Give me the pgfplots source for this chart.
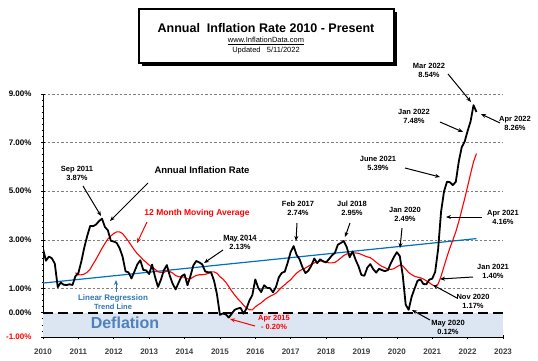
\documentclass[border=0pt]{standalone}
\usepackage{fontspec}
\setmainfont{Liberation Sans}
\usepackage{pgfplots}
\usepackage{pgfplotstable}
\pgfplotsset{compat=1.18}
\usetikzlibrary{arrows.meta}
\definecolor{defl}{RGB}{220,230,242}
\definecolor{trend}{RGB}{0,112,192}
\definecolor{deftext}{RGB}{79,129,189}
\definecolor{tblue}{RGB}{46,117,182}
\definecolor{xlab}{RGB}{64,64,64}

% Annual inflation rate, Jan 2010 - Apr 2022 (monthly)
\pgfplotstableread{
v
2.63
2.14
2.31
2.24
2.02
1.05
1.24
1.15
1.14
1.17
1.14
1.50
1.63
2.11
2.68
3.16
3.57
3.56
3.63
3.77
3.87
3.53
3.39
2.96
2.93
2.87
2.65
2.30
1.70
1.66
1.41
1.69
1.99
2.16
1.76
1.74
1.59
1.98
1.47
1.06
1.36
1.75
1.96
1.52
1.18
0.96
1.24
1.50
1.58
1.13
1.51
1.95
2.13
2.07
1.99
1.70
1.66
1.66
1.32
0.76
-0.09
-0.03
-0.07
-0.20
-0.04
0.12
0.17
0.20
-0.04
0.17
0.50
0.73
1.37
1.02
0.85
1.13
1.02
1.01
0.84
1.06
1.46
1.64
1.69
2.07
2.50
2.74
2.38
2.20
1.87
1.63
1.73
1.94
2.23
2.04
2.20
2.11
2.07
2.21
2.36
2.46
2.80
2.87
2.95
2.70
2.28
2.52
2.18
1.91
1.55
1.52
1.86
2.00
1.79
1.65
1.81
1.75
1.71
1.76
2.05
2.29
2.49
2.33
1.54
0.33
0.12
0.65
0.99
1.31
1.37
1.18
1.17
1.36
1.40
1.68
2.62
4.16
4.99
5.39
5.37
5.25
5.39
6.22
6.81
7.04
7.48
7.87
8.54
8.26
}\infl

% 12 month moving average, Dec 2010 - Apr 2022
\pgfplotstableread{
v
1.644
1.561
1.558
1.589
1.666
1.795
2.004
2.203
2.422
2.649
2.846
3.033
3.155
3.263
3.327
3.324
3.253
3.097
2.938
2.753
2.580
2.423
2.309
2.173
2.072
1.960
1.886
1.788
1.684
1.656
1.663
1.709
1.695
1.628
1.528
1.484
1.464
1.463
1.393
1.396
1.470
1.534
1.561
1.563
1.578
1.618
1.677
1.683
1.622
1.483
1.386
1.254
1.075
0.894
0.732
0.580
0.455
0.313
0.189
0.121
0.118
0.240
0.328
0.404
0.515
0.603
0.678
0.733
0.805
0.930
1.053
1.152
1.263
1.358
1.501
1.628
1.718
1.788
1.840
1.914
1.988
2.052
2.085
2.128
2.131
2.095
2.051
2.049
2.071
2.148
2.252
2.353
2.417
2.421
2.461
2.459
2.443
2.399
2.342
2.300
2.262
2.178
2.076
1.981
1.902
1.854
1.791
1.780
1.812
1.890
1.958
1.931
1.792
1.653
1.569
1.501
1.464
1.436
1.388
1.314
1.237
1.146
1.092
1.182
1.501
1.907
2.302
2.667
2.995
3.330
3.750
4.220
4.693
5.200
5.716
6.209
6.551
}\ma

\begin{document}
\begin{tikzpicture}
\useasboundingbox (0,0) rectangle (538pt,360pt);
\begin{axis}[
  at={(43pt,23pt)}, anchor=south west,
  scale only axis, width=460pt, height=243pt,
  xmin=0, xmax=156, ymin=-1, ymax=9,
  axis x line*=bottom, axis y line*=left,
  axis line style={black, line width=0.8pt, -},
  xtick={0,12,...,156},
  xticklabels={2010,2011,2012,2013,2014,2015,2016,2017,2018,2019,2020,2021,2022,2023},
  minor x tick num=11,
  ytick={1,3,5,7,9},
  yticklabels={1.00\%,3.00\%,5.00\%,7.00\%,9.00\%},
  extra y ticks={-1,0},
  extra y tick labels={\textcolor{red}{-1.00\%},0.00\%},
  extra tick style={grid=none},
  minor ytick={-0.75,-0.5,...,8.75},
  ymajorgrids,
  grid style={gray, dash pattern=on 2.5pt off 2pt, line width=0.5pt},
  tick label style={font=\fontsize{8}{9}\selectfont\bfseries},
  xticklabel style={text=xlab, yshift=-6pt},
  yticklabel style={xshift=-6pt},
  tick style={black, line width=0.6pt},
  major tick length=4pt, minor tick length=2.5pt,
  tick align=center,
]
\fill[defl] (axis cs:0,-1) rectangle (axis cs:156,0);
\draw[black, line width=2.2pt, dash pattern=on 10pt off 5pt] (axis cs:0,0) -- (axis cs:156,0);
\addplot[trend, line width=1.2pt] coordinates {(0,1.22) (147,3.05)};
\addplot[red, line width=1.1pt] table[x expr=\coordindex+11, y=v] {\ma};
\addplot[black, line width=1.8pt, line join=round] table[x expr=\coordindex, y=v] {\infl};
\end{axis}

\begin{scope}[x=1pt, y=-1pt, yshift=360pt,
  font=\fontsize{7.5}{9}\selectfont\bfseries,
  >={Stealth[length=5pt,width=4pt]}, every node/.style={align=center, inner sep=0pt}]
% title box
\fill[black] (142,12) rectangle (397,66);
\draw[fill=white, line width=1.2pt] (139,9) rectangle (394,63);
\node at (266,28) {\fontsize{12.5}{14}\selectfont\bfseries Annual\ \ Inflation Rate 2010 - Present};
\node at (266,41) {\fontsize{7.5}{9}\selectfont\mdseries \underline{www.InflationData.com}};
\node at (266,51) {\fontsize{7.5}{9}\selectfont\mdseries Updated\ \ \ 5/11/2022};
% deflation
\node[text=deftext] at (125,323) {\fontsize{16}{18}\selectfont\bfseries Deflation};
% annotations
\node at (77,173.5) {Sep 2011\\3.87\%};
\draw[->, line width=1pt] (83,186) -- (101,216);
\node at (202,170) {\fontsize{9.5}{11}\selectfont\bfseries Annual Inflation Rate};
\draw[->, line width=1pt] (148,183) -- (110,221);
\node[text=red] at (197,213) {\fontsize{8.5}{10}\selectfont\bfseries 12 Month Moving Average};
\draw[->, red, line width=1pt] (147,222) -- (137,243);
\node at (240,242) {May 2014\\2.13\%};
\draw[->, line width=1pt] (223,250) -- (204,263);
\node[text=tblue] at (113,302.5) {\fontsize{8}{9}\selectfont\bfseries Linear Regression\\Trend Line};
\draw[->, tblue, line width=1pt] (116,292) -- (116,280);
\node[text=red] at (274,322) {Apr 2015\\- 0.20\%};
\draw[->, red, line width=1pt] (255,326) -- (230,319);
\node at (298,208.5) {Feb 2017\\2.74\%};
\draw[->, line width=1pt] (297,223) -- (296,241);
\node at (352,208.5) {Jul 2018\\2.95\%};
\draw[->, line width=1pt] (350,223) -- (345,237);
\node at (405,214.5) {Jan 2020\\2.49\%};
\draw[->, line width=1pt] (402,228) -- (400,248);
\node at (503,217.5) {Apr 2021\\4.16\%};
\draw[->, line width=1pt] (482,217) -- (446,217);
\node at (378,163.5) {June 2021\\5.39\%};
\draw[->, line width=1pt] (405,168) -- (440,177);
\node at (414,116.5) {Jan 2022\\7.48\%};
\draw[->, line width=1pt] (440,122) -- (463,132);
\node at (429,70.5) {Mar 2022\\8.54\%};
\draw[->, line width=1pt] (448,74) -- (471,102);
\node at (515,123.5) {Apr 2022\\8.26\%};
\draw[->, line width=1pt] (500,123) -- (481,114);
\node at (493,271.5) {Jan 2021\\1.40\%};
\draw[->, line width=1pt] (473,277) -- (440,279);
\node at (473,301.5) {Nov 2020\\1.17\%};
\draw[->, line width=1pt] (457,298) -- (433,285);
\node at (448,327) {May 2020\\0.12\%};
\draw[->, line width=1pt] (430,320) -- (412,310);
\end{scope}
\end{tikzpicture}
\end{document}
